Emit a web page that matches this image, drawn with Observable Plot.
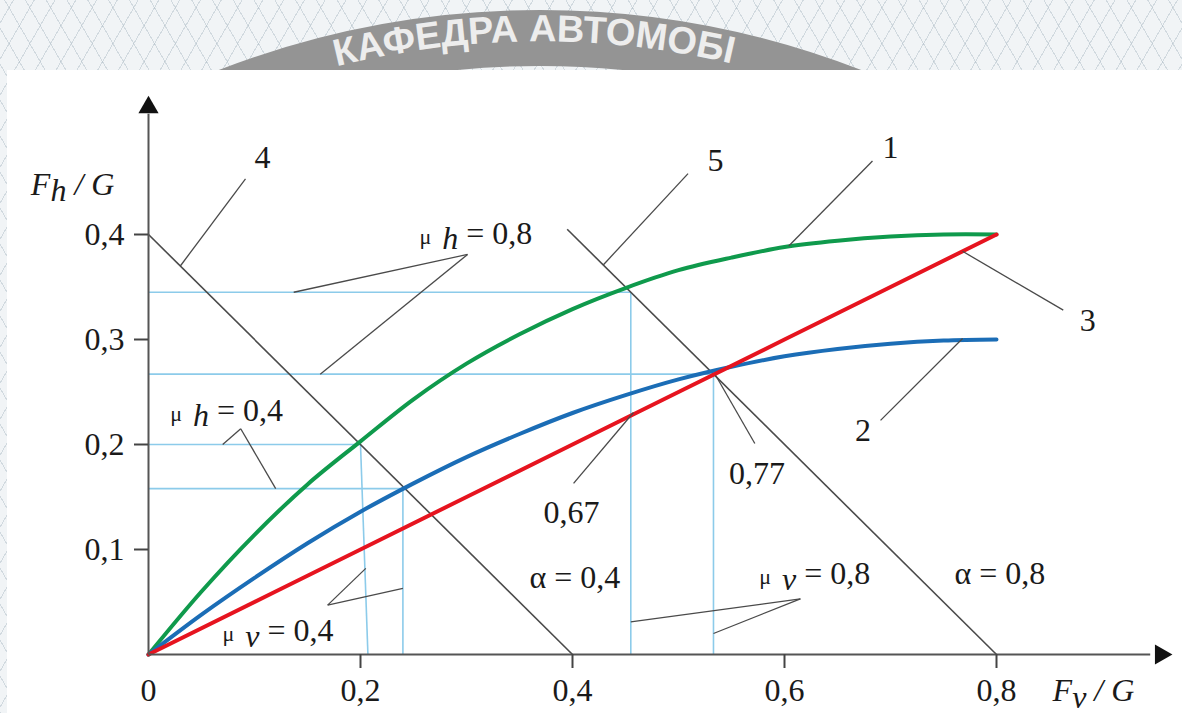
<!DOCTYPE html>
<html>
<head>
<meta charset="utf-8">
<script src="https://cdn.jsdelivr.net/npm/d3@7"></script>
<script src="https://cdn.jsdelivr.net/npm/@observablehq/plot@0.6"></script>
<style>
  html, body { margin:0; padding:0; width:1182px; height:713px; overflow:hidden; }
  body {
    position:relative;
    background-color:#f1f4f6;
    background-image:
      repeating-linear-gradient(60deg, rgba(170,185,195,0.45) 0 1px, transparent 1px 18px),
      repeating-linear-gradient(-60deg, rgba(170,185,195,0.45) 0 1px, transparent 1px 18px);
  }
  #sheet { position:absolute; left:7px; top:70px; right:0; bottom:0; background:#fff; }
  #logo { position:absolute; left:0; top:0; }
  #chart { position:absolute; left:0; top:0; }
</style>
</head>
<body>
<svg id="logo" width="1182" height="70">
  <defs>
    <path id="arcText" d="M 184.5 120.5 A 838 838 0 0 1 895.5 120.5" />
  </defs>
  <circle cx="540" cy="900" r="862" fill="none" stroke="#949494" stroke-width="56"/>
  <text font-family="Liberation Sans, Arial, sans-serif" font-weight="bold" font-size="38" fill="#ededed">
    <textPath href="#arcText" startOffset="22%">КАФЕДРА АВТОМОБІ</textPath>
  </text>
</svg>
<div id="sheet"></div>
<div id="chart"></div>
<script>
// ---- data ----
const xGrid   = [0, 0.05, 0.1, 0.15, 0.2, 0.25, 0.3, 0.35, 0.4, 0.45, 0.5, 0.55, 0.6, 0.65, 0.7, 0.75, 0.8];
const curve1  = [0, 0.060, 0.114, 0.162, 0.203, 0.243, 0.277, 0.305, 0.329, 0.349, 0.366, 0.378, 0.388, 0.394, 0.398, 0.400, 0.400]; // green
const curve2  = [0, 0.038, 0.073, 0.106, 0.136, 0.163, 0.188, 0.210, 0.230, 0.247, 0.262, 0.274, 0.284, 0.291, 0.296, 0.299, 0.300]; // blue
const redX    = [0, 0.2, 0.4, 0.6, 0.8];
const curve3  = [0, 0.1, 0.2, 0.3, 0.4]; // red

const xTicks = [0.2, 0.4, 0.6, 0.8];
const yTicks = [0.1, 0.2, 0.3, 0.4];

// straight lines 4 and 5 (alpha = 0.4, alpha = 0.8)
const alphaLines = [
  {x1: 0,     y1: 0.4,   x2: 0.4, y2: 0},
  {x1: 0.395, y1: 0.405, x2: 0.8, y2: 0}
];

// light-blue construction lines
const guideLines = [
  {x1: 0, y1: 0.345, x2: 0.455, y2: 0.345},
  {x1: 0, y1: 0.267, x2: 0.533, y2: 0.267},
  {x1: 0, y1: 0.2,   x2: 0.2,   y2: 0.2},
  {x1: 0, y1: 0.158, x2: 0.24,  y2: 0.158},
  {x1: 0.455, y1: 0.345, x2: 0.455, y2: 0},
  {x1: 0.533, y1: 0.267, x2: 0.533, y2: 0},
  {x1: 0.2,   y1: 0.2,   x2: 0.207, y2: 0},
  {x1: 0.24,  y1: 0.158, x2: 0.24,  y2: 0}
];

// leader lines of the annotations
const leaders = [
  {x1: 0.030, y1: 0.370, x2: 0.0915, y2: 0.453},
  {x1: 0.429, y1: 0.371, x2: 0.509, y2: 0.458},
  {x1: 0.604, y1: 0.389, x2: 0.683, y2: 0.470},
  {x1: 0.768, y1: 0.384, x2: 0.863, y2: 0.328},
  {x1: 0.768, y1: 0.301, x2: 0.6906, y2: 0.223},
  {x1: 0.301, y1: 0.381, x2: 0.137, y2: 0.345},
  {x1: 0.301, y1: 0.381, x2: 0.162, y2: 0.267},
  {x1: 0.087, y1: 0.215, x2: 0.070, y2: 0.2},
  {x1: 0.087, y1: 0.215, x2: 0.120, y2: 0.158},
  {x1: 0.169, y1: 0.047, x2: 0.205, y2: 0.082},
  {x1: 0.169, y1: 0.047, x2: 0.240, y2: 0.063},
  {x1: 0.615, y1: 0.053, x2: 0.455, y2: 0.031},
  {x1: 0.615, y1: 0.053, x2: 0.533, y2: 0.020},
  {x1: 0.4575, y1: 0.2305, x2: 0.401, y2: 0.163},
  {x1: 0.535, y1: 0.266, x2: 0.572, y2: 0.201}
];

// centred labels
const labelsMid = [
  {t: "4", x: 0.1075, y: 0.473},
  {t: "5", x: 0.535,  y: 0.470},
  {t: "1", x: 0.700,  y: 0.483},
  {t: "3", x: 0.886,  y: 0.318},
  {t: "2", x: 0.674,  y: 0.213},
  {t: "0,67", x: 0.399, y: 0.135},
  {t: "0,77", x: 0.574, y: 0.172}
];
// right-aligned labels
const labelsEnd = [
  {t: "μh = 0,8", x: 0.362, y: 0.401},
  {t: "μh = 0,4", x: 0.127, y: 0.232},
  {t: "μv = 0,4", x: 0.1745, y: 0.023},
  {t: "μv = 0,8", x: 0.681, y: 0.077},
  {t: "α = 0,4", x: 0.445, y: 0.073},
  {t: "α = 0,8", x: 0.846, y: 0.077}
];
// left-aligned labels
const labelsStart = [
  {t: "Fh / G", x: -0.111, y: 0.447}
];
const xAxisTitle = [{t: "Fv / G", x: 0.8915, y: 0}];
const originLabel = [{t: "0", x: 0, y: 0}];

const axisEnds = {xMax: 0.945, yMax: 0.515};
const arrowHeads = [
  {x: 0.955, y: 0, rot: 90},
  {x: 0, y: 0.521, rot: 0}
];

// ---- build tables ----
const series = [
  ...xGrid.map((x, i) => ({x, y: curve1[i], s: "1"})),
  ...xGrid.map((x, i) => ({x, y: curve2[i], s: "2"})),
  ...redX.map((x, i) => ({x, y: curve3[i], s: "3"}))
];
const colors = {"1": "#0f9a4c", "2": "#1b6db6", "3": "#e6141f"};
const axesLines = [
  {x1: 0, y1: 0, x2: axisEnds.xMax, y2: 0},
  {x1: 0, y1: 0, x2: 0, y2: axisEnds.yMax}
];
const fmt = d => String(d).replace(".", ",");

const chart = Plot.plot({
  width: 1182, height: 713,
  marginLeft: 148, marginRight: 186, marginTop: 234, marginBottom: 59,
  x: {domain: [0, 0.8]},
  y: {domain: [0, 0.4]},
  style: {fontFamily: "'Liberation Serif', 'DejaVu Serif', serif", fontSize: "32px", color: "#1a1a1a", background: "transparent", overflow: "visible"},
  marks: [
    Plot.link(guideLines, {x1: "x1", y1: "y1", x2: "x2", y2: "y2", stroke: "#8ccbea", strokeWidth: 1.6}),
    Plot.link(alphaLines, {x1: "x1", y1: "y1", x2: "x2", y2: "y2", stroke: "#4a4a4a", strokeWidth: 1.6}),
    Plot.line(series, {x: "x", y: "y", z: "s", stroke: d => colors[d.s], strokeWidth: 4, curve: "catmull-rom"}),
    Plot.link(leaders, {x1: "x1", y1: "y1", x2: "x2", y2: "y2", stroke: "#4a4a4a", strokeWidth: 1.3}),
    Plot.link(axesLines, {x1: "x1", y1: "y1", x2: "x2", y2: "y2", stroke: "#555", strokeWidth: 2}),
    Plot.dot(arrowHeads, {x: "x", y: "y", symbol: "triangle", r: 7.5, fill: "#111", stroke: "none", rotate: "rot"}),
    Plot.axisX({ticks: xTicks, tickSize: 14, tickPadding: 10, tickFormat: fmt, stroke: "#444", strokeWidth: 2, label: null}),
    Plot.axisY({ticks: yTicks, tickSize: 14, tickPadding: 10, tickFormat: fmt, stroke: "#444", strokeWidth: 2, label: null}),
    Plot.text(originLabel, {x: "x", y: "y", text: "t", dy: 36}),
    Plot.text(xAxisTitle, {x: "x", y: "y", text: "t", dy: 36}),
    Plot.text(labelsMid, {x: "x", y: "y", text: "t", textAnchor: "middle"}),
    Plot.text(labelsEnd, {x: "x", y: "y", text: "t", textAnchor: "end"}),
    Plot.text(labelsStart, {x: "x", y: "y", text: "t", textAnchor: "start"})
  ]
});

// rich text (italic letters with lowered subscripts)
const rich = {
  "Fh / G": [{t: "F", i: 1}, {t: "h", i: 1, dy: 6}, {t: " / G", i: 1, dy: -6}],
  "Fv / G": [{t: "F", i: 1}, {t: "v", i: 1, dy: 7}, {t: " / G", i: 1, dy: -7}],
  "μh = 0,8": [{t: "μ  ", fs: "22px"}, {t: "h", i: 1, dy: 5}, {t: " = 0,8", dy: -5}],
  "μh = 0,4": [{t: "μ  ", fs: "22px"}, {t: "h", i: 1, dy: 5}, {t: " = 0,4", dy: -5}],
  "μv = 0,4": [{t: "μ  ", fs: "22px"}, {t: "v", i: 1, dy: 6}, {t: " = 0,4", dy: -6}],
  "μv = 0,8": [{t: "μ  ", fs: "22px"}, {t: "v", i: 1, dy: 6}, {t: " = 0,8", dy: -6}]
};
d3.select(chart).selectAll("text").each(function () {
  const spec = rich[this.textContent];
  if (!spec) return;
  const el = d3.select(this);
  el.text(null);
  el.attr("xml:space", "preserve").style("white-space", "pre");
  spec.forEach(p => {
    const ts = el.append("tspan").text(p.t);
    if (p.i) ts.attr("font-style", "italic");
    if (p.fs) ts.attr("font-size", p.fs);
    if (p.dy) ts.attr("dy", p.dy);
  });
});

document.getElementById("chart").appendChild(chart);
</script>
</body>
</html>
